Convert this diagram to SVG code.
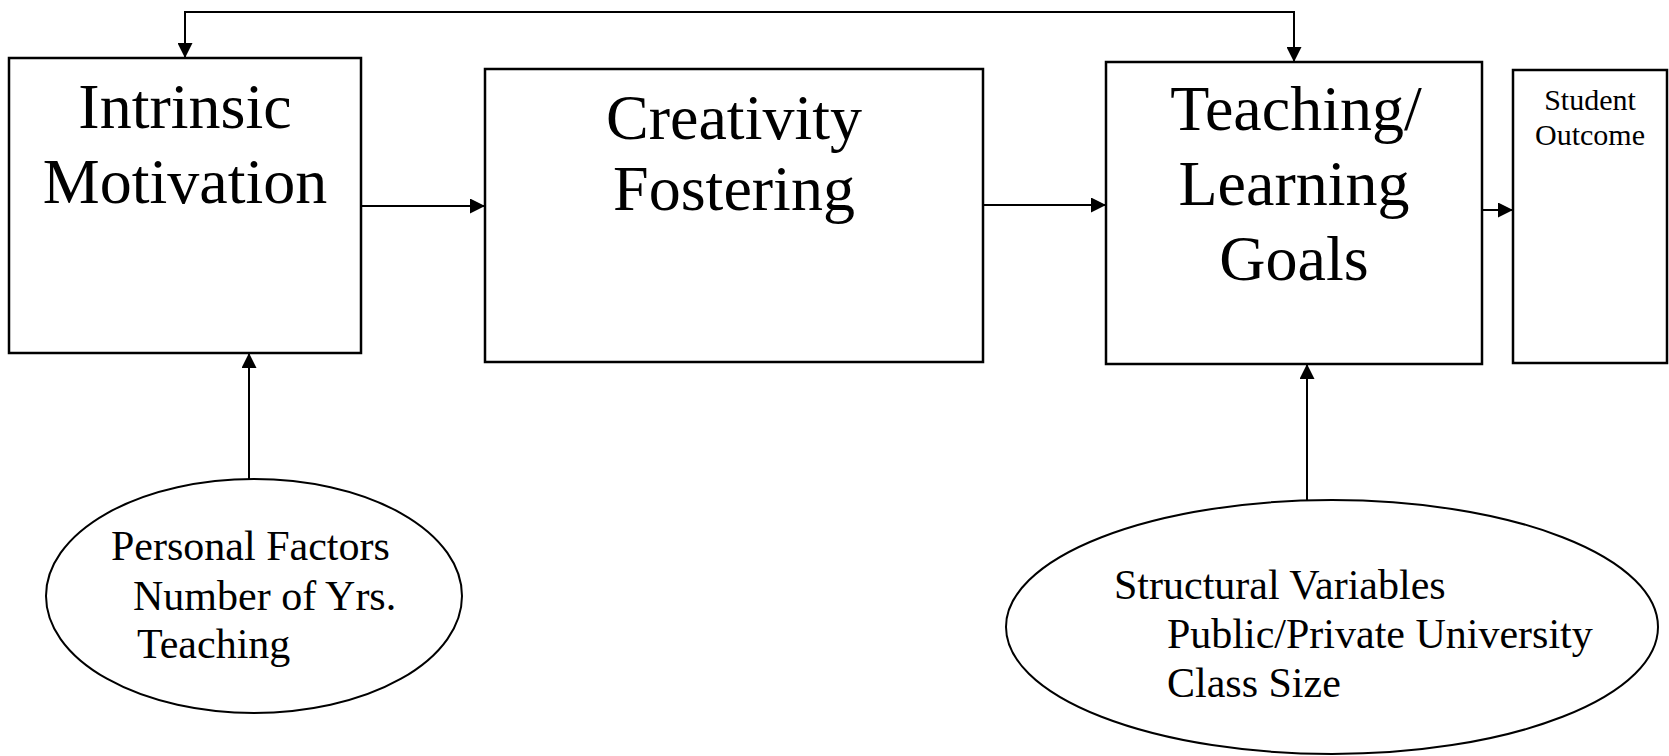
<svg xmlns="http://www.w3.org/2000/svg" width="1669" height="756" viewBox="0 0 1669 756">
  <defs>
    <marker id="arr" viewBox="0 0 10 10" refX="10" refY="5" markerUnits="userSpaceOnUse" markerWidth="15" markerHeight="15" orient="auto-start-reverse">
      <path d="M0,0 L10,5 L0,10 Z" fill="#000"/>
    </marker>
  </defs>
  <style>
    .box { fill: #fff; stroke: #000; stroke-width: 2.5; }
    .ell { fill: #fff; stroke: #000; stroke-width: 2; }
    .big { font-family: "Liberation Serif", "Times New Roman", serif; font-size: 64px; fill: #000; text-anchor: middle; }
    .mid { font-family: "Liberation Serif", "Times New Roman", serif; font-size: 42px; fill: #000; }
    .small { font-family: "Liberation Serif", "Times New Roman", serif; font-size: 30px; fill: #000; text-anchor: middle; }
    .conn { fill: none; stroke: #000; stroke-width: 2; }
  </style>
  <rect width="1669" height="756" fill="#fff"/>

  <g id="intrinsic-motivation">
    <rect class="box" x="9" y="58" width="352" height="295"/>
    <text class="big" x="185" y="128">Intrinsic</text>
    <text class="big" x="185" y="203">Motivation</text>
  </g>

  <g id="creativity-fostering">
    <rect class="box" x="485" y="69" width="498" height="293"/>
    <text class="big" x="734" y="139">Creativity</text>
    <text class="big" x="734" y="210">Fostering</text>
  </g>

  <g id="teaching-learning-goals">
    <rect class="box" x="1106" y="62" width="376" height="302"/>
    <text class="big" x="1296" y="130">Teaching/</text>
    <text class="big" x="1294" y="205">Learning</text>
    <text class="big" x="1294" y="280">Goals</text>
  </g>

  <g id="student-outcome">
    <rect class="box" x="1513" y="70" width="154" height="293"/>
    <text class="small" x="1590" y="110">Student</text>
    <text class="small" x="1590" y="145">Outcome</text>
  </g>

  <g id="personal-factors">
    <ellipse class="ell" cx="254" cy="596" rx="208" ry="117"/>
    <text class="mid" x="111" y="560">Personal Factors</text>
    <text class="mid" x="133" y="610">Number of Yrs.</text>
    <text class="mid" x="137" y="658">Teaching</text>
  </g>

  <g id="structural-variables">
    <ellipse class="ell" cx="1332" cy="627" rx="326" ry="127"/>
    <text class="mid" x="1114" y="599">Structural Variables</text>
    <text class="mid" x="1167" y="648">Public/Private University</text>
    <text class="mid" x="1167" y="697">Class Size</text>
  </g>

  <g id="connectors">
    <path class="conn" d="M185,58 V12 H1294 V62" marker-start="url(#arr)" marker-end="url(#arr)"/>
    <path class="conn" d="M361,206 H485" marker-end="url(#arr)"/>
    <path class="conn" d="M983,205 H1106" marker-end="url(#arr)"/>
    <path class="conn" d="M1482,210 H1513" marker-end="url(#arr)"/>
    <path class="conn" d="M249,479 V353" marker-end="url(#arr)"/>
    <path class="conn" d="M1307,500 V364" marker-end="url(#arr)"/>
  </g>
</svg>
